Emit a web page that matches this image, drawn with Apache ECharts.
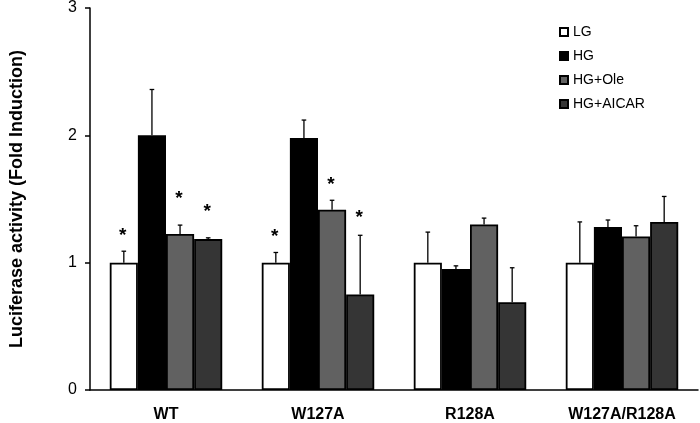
<!DOCTYPE html>
<html>
	<head>
		<meta charset="utf-8">
		<title>Luciferase activity</title>
		<script src="https://cdn.jsdelivr.net/npm/echarts@6/dist/echarts.min.js" type="text/javascript"></script>
		<style type="text/css">
			body{margin: 0; background-color: #fff;}
			#main{width: 700px; height: 423px;}
		</style>
	</head>
	<body>
		<div id="main"></div>
		<script type="text/javascript">
			// 数据
			var categories = ['WT', 'W127A', 'R128A', 'W127A/R128A'];
			var seriesNames = ['LG', 'HG', 'HG+Ole', 'HG+AICAR'];
			var yTicks = ['0', '1', '2', '3'];

			var lgValues = [1.0, 1.0, 1.0, 1.0];
			var hgValues = [2.0, 1.98, 0.95, 1.28];
			var oleValues = [1.225, 1.415, 1.30, 1.205];
			var aicarValues = [1.185, 0.75, 0.69, 1.32];

			// 误差（只画上半部分）
			var lgErr = [0.09, 0.08, 0.24, 0.32];
			var hgErr = [0.36, 0.14, 0.025, 0.055];
			var oleErr = [0.07, 0.075, 0.05, 0.085];
			var aicarErr = [0.01, 0.465, 0.27, 0.2];

			// 星号的高度（null = 无星号）
			var lgStars = [1.25, 1.24, null, null];
			var hgStars = [null, null, null, null];
			var oleStars = [1.545, 1.65, null, null];
			var aicarStars = [1.44, 1.39, null, null];

			var colors = ['#ffffff', '#000000', '#616161', '#353535'];
			var catGap = 0.26;

			var allValues = [lgValues, hgValues, oleValues, aicarValues];
			var allErr = [lgErr, hgErr, oleErr, aicarErr];
			var allStars = [lgStars, hgStars, oleStars, aicarStars];

			function errRender(k) {
				return function (params, api) {
					var cat = api.value(0), v = api.value(1), e = api.value(2), s = api.value(3);
					var catW = api.size([1, 0])[0];
					var bw = catW * (1 - catGap) / 4;
					var base = api.coord([cat, v]);
					var x = base[0] + (k - 1.5) * bw;
					var y0 = base[1];
					var y1 = api.coord([cat, v + e])[1];
					var children = [
						{type: 'line', shape: {x1: x, y1: y0, x2: x, y2: y1}, style: {stroke: '#000', lineWidth: 1.3}},
						{type: 'line', shape: {x1: x - 2.3, y1: y1, x2: x + 2.3, y2: y1}, style: {stroke: '#000', lineWidth: 1.3}}
					];
					if (!isNaN(s)) {
						var sy = api.coord([cat, s])[1];
						children.push({
							type: 'text',
							style: {x: x - 1, y: sy + 5, text: '*', fill: '#000', align: 'center', verticalAlign: 'middle',
								font: 'bold 19px "Liberation Sans", Arial, sans-serif'}
						});
					}
					return {type: 'group', children: children};
				};
			}

			var series = [];
			for (var k = 0; k < 4; k++) {
				series.push({
					name: seriesNames[k],
					type: 'bar',
					barGap: 0,
					barCategoryGap: (catGap * 100) + '%',
					data: allValues[k],
					itemStyle: {color: colors[k], borderColor: '#000', borderWidth: 1.8},
					silent: true
				});
			}
			for (var k = 0; k < 4; k++) {
				var d = [];
				for (var i = 0; i < categories.length; i++) {
					d.push([i, allValues[k][i], allErr[k][i], allStars[k][i] == null ? '-' : allStars[k][i]]);
				}
				series.push({
					name: seriesNames[k] + ' err',
					type: 'custom',
					renderItem: errRender(k),
					encode: {x: 0, y: 1},
					data: d,
					z: 10,
					silent: true
				});
			}

			var myChart = echarts.init(document.getElementById('main'), null, {renderer: 'canvas'});
			var option = {
				animation: false,
				textStyle: {fontFamily: '"Liberation Sans", Arial, sans-serif'},
				grid: {left: 78, right: 2, top: 5, bottom: 31, containLabel: false},
				legend: {
					data: seriesNames,
					orient: 'vertical',
					left: 559,
					top: 25,
					padding: 0,
					itemWidth: 8,
					itemHeight: 8,
					itemGap: 10,
					itemTextGap: 2,
					icon: 'rect',
					textStyle: {fontSize: 14, color: '#000'}
				},
				xAxis: {
					type: 'category',
					data: categories,
					axisLine: {lineStyle: {color: '#000', width: 1.5}},
					axisTick: {length: 5, lineStyle: {color: '#000', width: 1.5}},
					axisLabel: {color: '#000', fontWeight: 'bold', fontSize: 16, margin: 17}
				},
				yAxis: {
					type: 'value',
					min: 0,
					max: 3,
					interval: 1,
					name: 'Luciferase activity (Fold Induction)',
					nameLocation: 'middle',
					nameGap: 64,
					nameTextStyle: {color: '#000', fontWeight: 'bold', fontSize: 18},
					axisLine: {show: true, lineStyle: {color: '#000', width: 1.5}},
					axisTick: {show: true, length: 5, lineStyle: {color: '#000', width: 1.5}},
					splitLine: {show: false},
					axisLabel: {
						color: '#000', fontSize: 16, margin: 13,
						formatter: function (v) { return yTicks[Math.round(v)]; }
					}
				},
				series: series
			};
			myChart.setOption(option);
		</script>
	</body>
</html>
